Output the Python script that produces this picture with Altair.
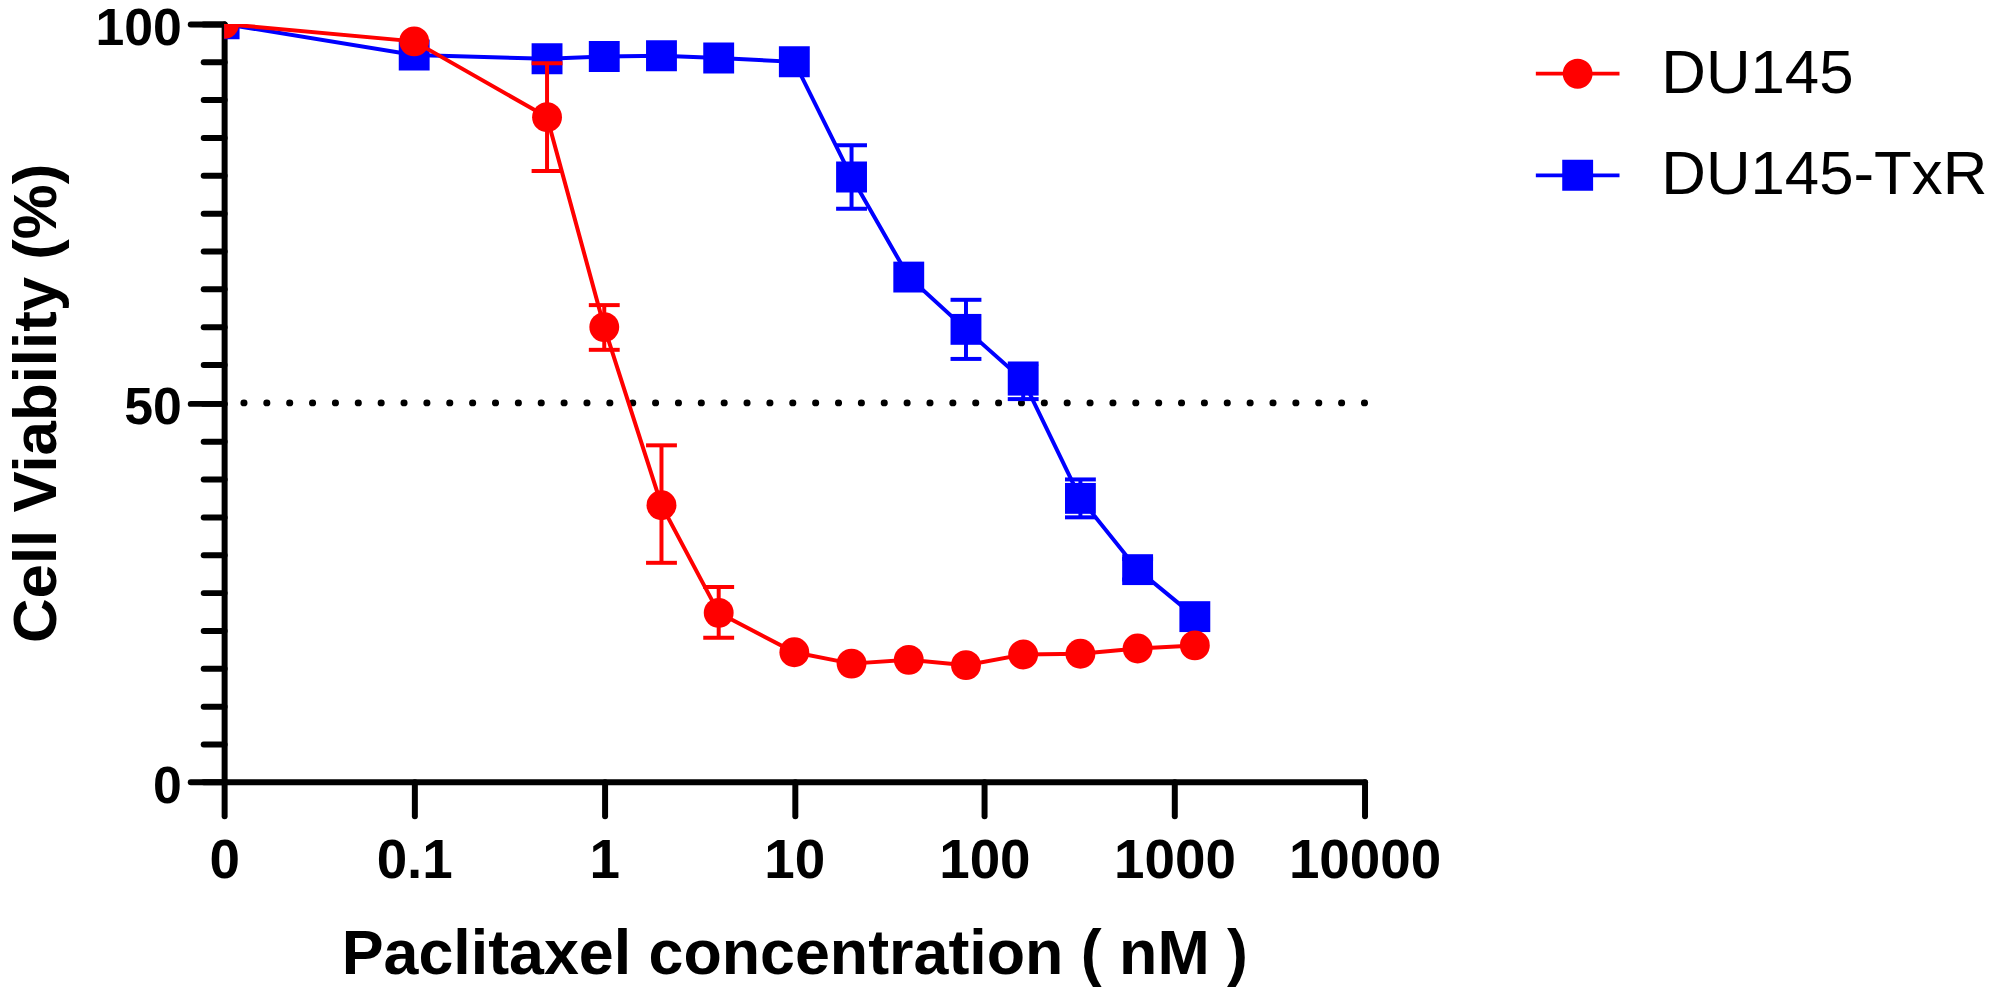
import altair as alt
import pandas as pd

# ---- data ----
conc = [0, 0.1, 0.5, 1, 2, 4, 10, 20, 40, 80, 160, 320, 640, 1280]

du145 = [100, 97.7, 87.7, 60.0, 36.5, 22.3, 17.1, 15.6, 16.1, 15.4, 16.8, 16.9, 17.6, 18.0]
du145_hi = [None, None, 94.8, 62.9, 44.4, 25.7, None, None, None, None, None, None, None, None]
du145_lo = [None, None, 80.6, 57.0, 28.9, 19.0, None, None, None, None, None, None, None, None]

txr = [100, 95.9, 95.4, 95.7, 95.8, 95.5, 95.0, 79.8, 66.6, 59.7, 53.0, 37.4, 28.0, 21.8]
txr_hi = [None, None, None, None, None, None, None, 84.0, None, 63.6, 55.2, 39.9, 29.4, None]
txr_lo = [None, None, None, None, None, None, None, 75.6, None, 55.8, 50.5, 34.9, 26.7, None]

series_names = ["DU145", "DU145-TxR"]
series_colors = ["#FF0000", "#0000FF"]

x_tick_values = [0.01, 0.1, 1, 10, 100, 1000, 10000]
y_major_values = [0, 50, 100]
y_minor_values = list(range(0, 101, 5))
threshold = [50]

ZERO_AT = 0.01  # where the "0" concentration sits on the log axis

# legend symbols: line with marker (unit coordinates, scaled by Vega)
legend_paths = [
    "M-1,-0.045 H-0.34 V0.045 H-1 Z M0.34,-0.045 H1 V0.045 H0.34 Z "
    "M-0.357,0 A0.357,0.357 0 1,1 0.357,0 A0.357,0.357 0 1,1 -0.357,0 Z",
    "M-1,-0.045 H-0.36 V0.045 H-1 Z M0.36,-0.045 H1 V0.045 H0.36 Z "
    "M-0.369,-0.369 H0.369 V0.369 H-0.369 Z",
]

FONT = "Liberation Sans"

rows = []
for name, vals, hi, lo in [
    ("DU145", du145, du145_hi, du145_lo),
    ("DU145-TxR", txr, txr_hi, txr_lo),
]:
    for c, v, h, l in zip(conc, vals, hi, lo):
        rows.append({
            "series": name,
            "conc": c,
            "x": c if c > 0 else ZERO_AT,
            "viability": v,
            "hi": h,
            "lo": l,
        })
df = pd.DataFrame(rows)
thr_df = pd.DataFrame({"y": threshold})

x_axis = alt.Axis(
    values=x_tick_values,
    labelExpr="datum.value < 0.05 ? '0' : format(datum.value, '~g')",
    title="Paclitaxel concentration ( nM )",
    grid=False,
    domainColor="black", domainWidth=6, domainCap="round",
    tickColor="black", tickWidth=6, tickSize=34, tickCap="round",
    labelFont=FONT, labelFontSize=55, labelFontWeight="bold", labelColor="black",
    labelPadding=62, labelBaseline="alphabetic", labelFlush=False, labelOverlap=False,
    titleFont=FONT, titleFontSize=63, titleFontWeight="bold", titleColor="black",
    titleBaseline="alphabetic", titleY=192,
)

y_major = alt.Axis(
    values=y_major_values,
    title="Cell Viability (%)",
    orient="left",
    grid=False,
    domainColor="black", domainWidth=6, domainCap="round",
    tickColor="black", tickWidth=6, tickSize=34, tickCap="round",
    labelFont=FONT, labelFontSize=52, labelFontWeight="bold", labelColor="black",
    labelPadding=9, labelOffset=5, labelFlush=False, labelOverlap=False,
    titleFont=FONT, titleFontSize=62, titleFontWeight="bold", titleColor="black",
    titleAngle=270, titleBaseline="alphabetic", titleAlign="center",
    titleX=-169, titleY=380.5,
)

y_minor = alt.Axis(
    values=y_minor_values,
    orient="left",
    title=None,
    labels=False,
    domain=False,
    grid=False,
    tickColor="black", tickWidth=6, tickSize=21, tickCap="round",
)

x_scale = alt.Scale(type="log", domain=[0.01, 10000], nice=False)
y_scale = alt.Scale(domain=[0, 100], nice=False, zero=False)

X = alt.X("x:Q", scale=x_scale, axis=x_axis)


def Y(axis):
    return alt.Y("viability:Q", scale=y_scale, axis=axis)


legend = alt.Legend(
    title=None, orient="none", legendX=1317, legendY=8,
    symbolSize=7056, symbolStrokeWidth=0,
    labelFont=FONT, labelFontSize=62, labelColor="black",
    labelOffset=42, rowPadding=29, padding=0, labelLimit=1000,
)

base = alt.Chart(df)

legend_layer = base.mark_point(filled=True, size=1, opacity=1, strokeWidth=0, clip=True).encode(
    x=X,
    y=Y(y_major),
    color=alt.Color("series:N", scale=alt.Scale(domain=series_names, range=series_colors), legend=legend),
    shape=alt.Shape("series:N", scale=alt.Scale(domain=series_names, range=legend_paths), legend=legend),
)

dotted = alt.Chart(thr_df).mark_rule(
    color="black", strokeWidth=7, strokeDash=[0.1, 22.86], strokeCap="round"
).encode(y=alt.Y("y:Q", scale=y_scale, axis=None))


def series_layers(name, color, shape, size, first_axis):
    d = base.transform_filter(alt.datum.series == name)
    line = d.mark_line(color=color, strokeWidth=4, clip=True).encode(x=X, y=Y(first_axis))
    err = d.transform_filter("isValid(datum.hi)")
    bar = err.mark_rule(color=color, strokeWidth=4, clip=True).encode(
        x=X, y=alt.Y("lo:Q", scale=y_scale, axis=None), y2="hi:Q"
    )
    cap_hi = err.mark_tick(orient="horizontal", color=color, size=31, thickness=4, opacity=1, clip=True).encode(
        x=X, y=alt.Y("hi:Q", scale=y_scale, axis=None)
    )
    cap_lo = err.mark_tick(orient="horizontal", color=color, size=31, thickness=4, opacity=1, clip=True).encode(
        x=X, y=alt.Y("lo:Q", scale=y_scale, axis=None)
    )
    pts = d.mark_point(filled=True, shape=shape, size=size, color=color, opacity=1, strokeWidth=0, clip=True).encode(
        x=X, y=Y(None)
    )
    return [line, bar, cap_hi, cap_lo, pts]


layers = [legend_layer, dotted]
layers += series_layers("DU145-TxR", series_colors[1], "square", 961, y_minor)
layers += series_layers("DU145", series_colors[0], "circle", 900, None)

chart = alt.layer(*layers).resolve_axis(y="independent").properties(
    width=1145,
    height=761,
    padding={"left": 217, "top": 14, "right": 630, "bottom": 206},
    autosize=alt.AutoSizeParams(type="none"),
    background="white",
).configure_view(stroke=None)

chart.save("out.html", embed_options={"renderer": "svg", "actions": False})
